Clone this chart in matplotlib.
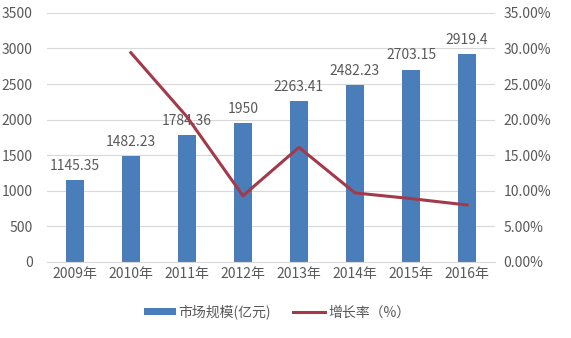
import matplotlib.pyplot as plt
from matplotlib.ticker import PercentFormatter

plt.rcParams['font.family'] = ['Noto Sans CJK SC', 'DejaVu Sans']

years = ['2009年', '2010年', '2011年', '2012年', '2013年', '2014年', '2015年', '2016年']
market_size = [1145.35, 1482.23, 1784.36, 1950, 2263.41, 2482.23, 2703.15, 2919.4]
bar_labels = ['1145.35', '1482.23', '1784.36', '1950', '2263.41', '2482.23', '2703.15', '2919.4']
growth_years = years[1:]
growth_rate = [29.4, 20.4, 9.3, 16.1, 9.7, 8.9, 8.0]

bar_color = '#4a7ebb'
line_color = '#a33a4a'
text_color = '#595959'

fig = plt.figure(figsize=(5.71, 3.38), dpi=100)
ax = fig.add_axes([0.082, 0.225, 0.785, 0.737])

x = list(range(len(years)))
bars = ax.bar(x, market_size, width=0.33, color=bar_color, label='市场规模(亿元)', zorder=2)
for xi, v, lab in zip(x, market_size, bar_labels):
    ax.text(xi, v + 100, lab, ha='center', va='bottom', fontsize=10, color=text_color)

ax.set_ylim(0, 3500)
ax.set_yticks(range(0, 3501, 500))
ax.set_xlim(-0.5, len(years) - 0.5)
ax.set_xticks(x)
ax.set_xticklabels(years)
ax.grid(axis='y', color='#d9d9d9', linewidth=0.8, zorder=0)
for s in ax.spines.values():
    s.set_visible(False)
ax.spines['bottom'].set_visible(True)
ax.spines['bottom'].set_color('#d9d9d9')
ax.tick_params(length=0, labelsize=10, colors=text_color)
ax.tick_params(axis='y', pad=10)

ax2 = ax.twinx()
line, = ax2.plot(x[1:], growth_rate, color=line_color, linewidth=2.2, label='增长率（%）', zorder=3)
ax2.set_ylim(0, 35)
ax2.set_yticks(range(0, 36, 5))
ax2.yaxis.set_major_formatter(PercentFormatter(decimals=2))
for s in ax2.spines.values():
    s.set_visible(False)
ax2.tick_params(length=0, labelsize=10, colors=text_color, pad=6)

fig.legend(handles=[bars, line], loc='center', bbox_to_anchor=(0.485, 0.077), ncol=2,
           frameon=False, fontsize=10, labelcolor=text_color, handlelength=2.3,
           handleheight=0.5, columnspacing=1.6, handletextpad=0.2)

fig.savefig('out.png', dpi=100)
